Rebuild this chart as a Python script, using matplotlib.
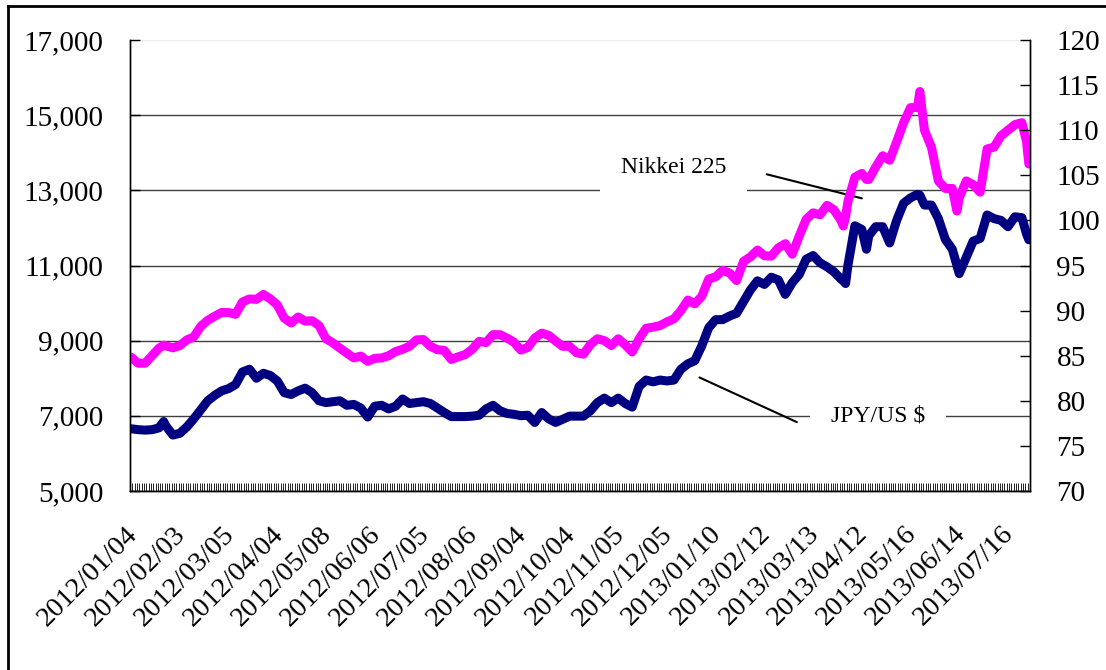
import pandas as pd
import numpy as np
import matplotlib.pyplot as plt
from matplotlib.lines import Line2D
from matplotlib.transforms import ScaledTranslation

plt.rcParams['font.family'] = ['Liberation Serif', 'DejaVu Serif']

# Tokyo trading calendar, 2012/01/04 .. 2013/07/29
first_day = "2012-01-04"
last_day = "2013-07-29"
jp_holidays = ["2012-01-09", "2012-03-20", "2012-04-30", "2012-05-03", "2012-05-04",
               "2012-07-16", "2012-09-17", "2012-10-08", "2012-11-23", "2012-12-24",
               "2012-12-31", "2013-01-01", "2013-01-02", "2013-01-03", "2013-01-14",
               "2013-02-11", "2013-03-20", "2013-04-29", "2013-05-03", "2013-05-06",
               "2013-07-15"]
label_every = 21

# trading-day number of each value
sample_days = [0, 3, 6, 9, 12, 14, 15, 18, 21, 24, 27, 30, 33, 36, 39, 42, 45, 48, 51, 54,
               57, 60, 63, 66, 69, 72, 75, 78, 81, 84, 87, 90, 93, 96, 99, 102, 105, 108, 111, 114,
               117, 120, 123, 126, 129, 132, 135, 138, 141, 144, 147, 150, 153, 156, 159, 162, 165, 168, 171, 174,
               177, 180, 183, 186, 189, 192, 195, 198, 201, 204, 207, 210, 213, 216, 219, 222, 225, 228, 231, 234,
               237, 240, 243, 246, 249, 252, 255, 258, 261, 264, 267, 270, 273, 276, 279, 282, 285, 288, 291, 294,
               297, 300, 303, 306, 307, 308, 309, 312, 315, 317, 318, 321, 324, 327, 330, 333, 336, 339, 340, 342,
               345, 348, 351, 354, 356, 357, 360, 363, 366, 369, 372, 375, 378, 381, 384, 386, 387]

nikkei = [8560, 8400, 8400, 8600, 8800, 8880, 8860, 8810, 8870, 9020, 9100, 9380, 9540, 9650, 9750, 9750, 9700, 10030, 10110, 10100,
          10230, 10110, 9950, 9600, 9470, 9630, 9520, 9530, 9400, 9050, 8940, 8800, 8670, 8540, 8590, 8450, 8530, 8540, 8600, 8710,
          8770, 8850, 9020, 9030, 8850, 8760, 8740, 8500, 8570, 8630, 8770, 8980, 8950, 9160, 9160, 9070, 8960, 8750, 8820, 9070,
          9200, 9140, 8990, 8850, 8850, 8680, 8640, 8900, 9050, 9000, 8870, 9050, 8890, 8700, 9050, 9330, 9360, 9400, 9500, 9580,
          9800, 10080, 9980, 10180, 10640, 10700, 10870, 10800, 10600, 11110, 11230, 11410, 11260, 11250, 11470, 11580, 11300, 11780, 12230, 12400,
          12350, 12600, 12480, 12200, 12050, 12300, 12700, 13350, 13450, 13290, 13290, 13620, 13920, 13800, 14290, 14800, 15200, 15200, 15630, 14600,
          14150, 13250, 13050, 13050, 12450, 12800, 13250, 13150, 12950, 14100, 14150, 14450, 14600, 14750, 14800, 14300, 13700]

jpy_usd = [76.9, 76.8, 76.75, 76.8, 77.0, 77.7, 77.2, 76.2, 76.4, 77.1, 78.0, 79.0, 80.0, 80.6, 81.1, 81.35, 81.8, 83.2, 83.5, 82.5,
           83.05, 82.8, 82.2, 80.9, 80.7, 81.1, 81.4, 80.9, 80.0, 79.8, 79.9, 80.0, 79.5, 79.6, 79.2, 78.2, 79.4, 79.5, 79.1, 79.4,
           80.2, 79.7, 79.8, 79.9, 79.7, 79.2, 78.7, 78.25, 78.25, 78.25, 78.3, 78.4, 79.1, 79.5, 78.9, 78.6, 78.5, 78.35, 78.4, 77.6,
           78.7, 78.0, 77.6, 77.95, 78.3, 78.3, 78.3, 78.9, 79.8, 80.3, 79.8, 80.3, 79.7, 79.3, 81.6, 82.3, 82.1, 82.3, 82.2, 82.3,
           83.5, 84.1, 84.45, 86.1, 88.1, 89.0, 89.0, 89.4, 89.7, 91.0, 92.3, 93.3, 92.9, 93.7, 93.4, 91.8, 93.1, 94.0, 95.7, 96.1,
           95.3, 94.85, 94.3, 93.5, 93.3, 93.0, 95.0, 99.4, 99.0, 96.8, 98.3, 99.3, 99.3, 97.5, 100.0, 101.9, 102.5, 102.9, 102.8, 101.7,
           101.7, 100.2, 97.9, 96.8, 95.0, 94.1, 95.9, 97.7, 98.0, 100.6, 100.2, 100.0, 99.3, 100.4, 100.3, 98.5, 97.85]

left_ticks = [5000, 7000, 9000, 11000, 13000, 15000, 17000]
right_ticks = [70, 75, 80, 85, 90, 95, 100, 105, 110, 115, 120]

days = pd.bdate_range(first_day, last_day, freq="C", holidays=jp_holidays)
n = len(days)
label_pos = np.arange(0, n, label_every)
labels = [days[i].strftime("%Y/%m/%d") for i in label_pos]

fig = plt.figure(figsize=(11.06, 6.70), dpi=100)
ax = fig.add_axes([130 / 1106, 1 - 491 / 670, 900 / 1106, 451 / 670])
ax2 = ax.twinx()

ax.plot(sample_days, nikkei, color="#FF00FF", lw=6.5, solid_joinstyle="round", solid_capstyle="round", zorder=4)
ax2.plot(sample_days, jpy_usd, color="#000080", lw=6.5, solid_joinstyle="round", solid_capstyle="round")

ax.set_xlim(-0.5, n - 0.5)
ax.set_ylim(left_ticks[0], left_ticks[-1])
ax2.set_ylim(right_ticks[0], right_ticks[-1])

ax.set_yticks(left_ticks)
ax.set_yticklabels([f"{v:,}" for v in left_ticks])
ax2.set_yticks(right_ticks)
ax2.set_yticklabels([str(v) for v in right_ticks])

ax.set_xticks(label_pos)
ax.set_xticklabels(labels, rotation=45, ha="right")
ax.set_xticks(np.arange(n + 1) - 0.5, minor=True)

ax.tick_params(axis="y", direction="in", length=7, width=1, pad=19, labelsize=21)
ax2.tick_params(axis="y", direction="in", length=7, width=1, pad=19, labelsize=21)
ax.tick_params(axis="x", which="major", length=0, pad=22, labelsize=20.5)
ax.tick_params(axis="x", which="minor", direction="in", length=6, width=0.6)

shift = ScaledTranslation(11 / 100, 0, fig.dpi_scale_trans)
for lab in ax.get_xticklabels():
    lab.set_transform(lab.get_transform() + shift)

ax.yaxis.grid(True, color="#404040", lw=1.0)
ax.get_ygridlines()[-1].set_color("#eeeeee")
for a in (ax, ax2):
    a.spines["top"].set_visible(False)
    for s in ("left", "right", "bottom"):
        a.spines[s].set_linewidth(1.0)

box = dict(facecolor="white", edgecolor="none", pad=15)
ax.text(234, 13613, "Nikkei 225", fontsize=17, ha="center", va="center", bbox=box, zorder=3)
ax.annotate("", xy=(315, 12787), xytext=(274, 13427),
            arrowprops=dict(arrowstyle="-", color="black", lw=1.5, shrinkA=0, shrinkB=0))
ax.text(322, 7000, "JPY/US $", fontsize=17, ha="center", va="center", bbox=box, zorder=3)
ax.annotate("", xy=(287, 6832), xytext=(245, 8021),
            arrowprops=dict(arrowstyle="-", color="black", lw=1.5, shrinkA=0, shrinkB=0))

# outer frame of the chart object
fig.add_artist(Line2D([8 / 1106, 8 / 1106], [0, 1 - 6 / 670], color="black", lw=2))
fig.add_artist(Line2D([8 / 1106, 1], [1 - 6 / 670, 1 - 6 / 670], color="black", lw=2))

fig.savefig("out.png", dpi=100)
